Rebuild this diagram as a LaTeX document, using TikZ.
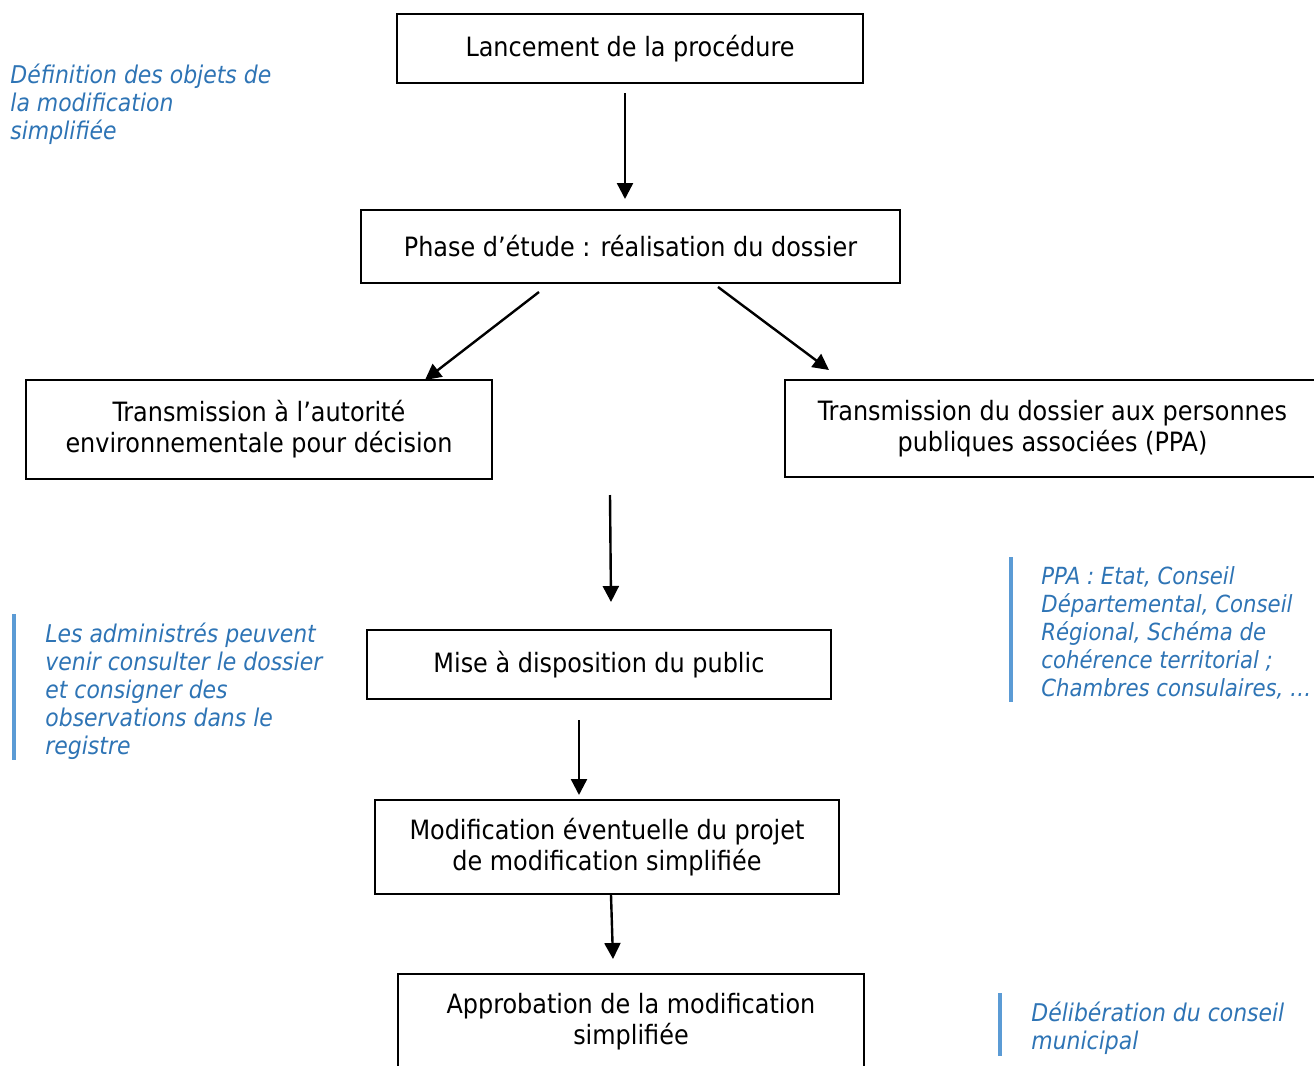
\documentclass[tikz,border=0pt]{standalone}
\usepackage{fontspec}
\setmainfont{DejaVu Sans Condensed}
\usetikzlibrary{arrows.meta,calc}
\definecolor{noteblue}{HTML}{2E74B5}
\definecolor{barblue}{HTML}{5B9BD5}
\tikzstyle{etape}=[
	rectangle,
	draw=black,
	line width=1pt,
	align=center,
	inner sep=0pt,
	font=\fontsize{13.3}{15.6}\selectfont
]
\tikzstyle{flow}=[
	-{Triangle[length=8pt,width=8pt]},
	line width=1.2pt
]
\tikzstyle{note}=[
	anchor=west,
	align=left,
	inner sep=0pt,
	text=noteblue,
	font=\fontsize{12.2}{14}\selectfont\itshape
]
\tikzstyle{barre}=[
	draw=barblue,
	line width=2pt
]

\begin{document}
\begin{tikzpicture}[x=0.5pt,y=-0.5pt]
\useasboundingbox (0,0) rectangle (1314,1066);
\node [etape, minimum width=233pt, minimum height=34.5pt] (Lancement) at (630,48.5) {Lancement de la procédure};
\node [etape, minimum width=269.5pt, minimum height=36.5pt] (Etude) at (630.5,246.5) {Phase d’étude : réalisation du dossier};
\node [etape, minimum width=233pt, minimum height=49.5pt] (Autorite) at (259,429.5) {Transmission à l’autorité\\environnementale pour décision};
\node [etape, minimum width=267.5pt, minimum height=48.5pt] (PPA) at (1052.5,428.5) {Transmission du dossier aux personnes\\publiques associées (PPA)};
\node [etape, minimum width=232pt, minimum height=34.5pt] (Public) at (599,664.5) {Mise à disposition du public};
\node [etape, minimum width=232pt, minimum height=47pt] (Modif) at (607,847) {Modification éventuelle du projet\\de modification simplifiée};
\node [etape, minimum width=233pt, minimum height=48pt] (Approbation) at (631,1022) {Approbation de la modification\\simplifiée};

% fleches
\draw [flow] ($(Lancement.south)+(-5,9)$) -- ($(Etude.north)+(-5.5,-10)$);
\draw [flow] ($(Etude.south)+(-91.5,8)$) -- ($(Autorite.north)+(166,1)$);
\draw [flow] ($(Etude.south)+(87.5,3)$) -- ($(PPA.north)+(-223.5,-9)$);
\draw [flow] ($(PPA.south west)+(-174,17)$) -- ($(Public.north)+(12,-27)$);
\draw [flow] ($(Public.south)+(-20,20)$) -- ($(Modif.north)+(-28,-4)$);
\draw [flow] ($(Modif.south)+(4,0)$) -- ($(Approbation.north)+(-18,-14)$);

% commentaires
\node [note] (Objets) at (10,104) {Définition des objets de\\la modification\\simplifiée};
\node [note] (Administres) at (45,691) {Les administrés peuvent\\venir consulter le dossier\\et consigner des\\observations dans le\\registre};
\node [note, font=\fontsize{11.8}{14}\selectfont\itshape] (Liste) at (1041,633) {PPA : Etat, Conseil\\Départemental, Conseil\\Régional, Schéma de\\cohérence territorial ;\\Chambres consulaires,~…};
\node [note] (Deliberation) at (1031,1028.5) {Délibération du conseil\\municipal};
\draw [barre] (14,614) -- (14,760);
\draw [barre] (1011,557) -- (1011,702);
\draw [barre] (1000,993) -- (1000,1056);
\end{tikzpicture}
\end{document}
